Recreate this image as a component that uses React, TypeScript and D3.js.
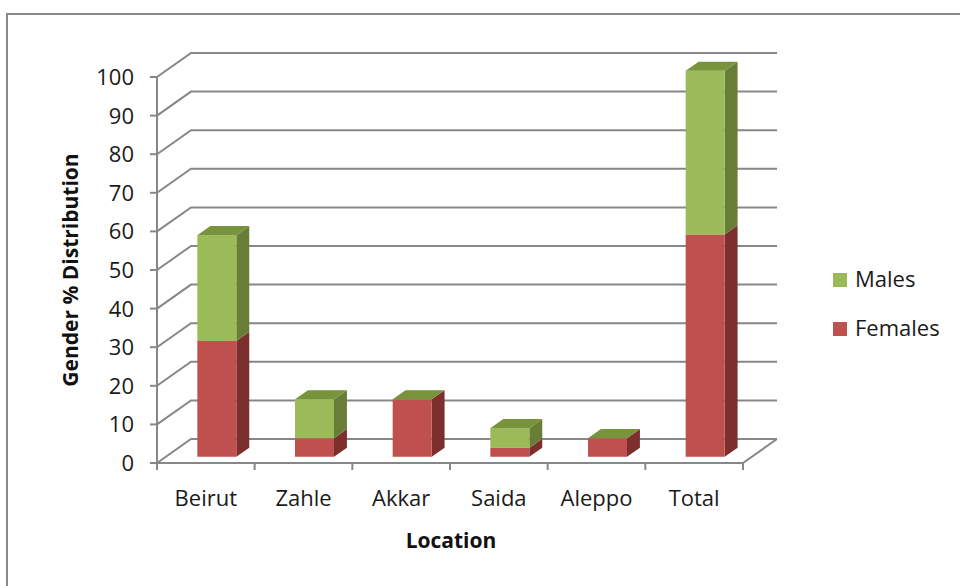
import React from "react";
import * as d3 from "d3";

// Gender split (%) by location
const categories = ["Beirut", "Zahle", "Akkar", "Saida", "Aleppo", "Total"];
const females = [30, 4.8, 14.9, 2.3, 4.8, 57.6];
const males = [27.4, 10.1, 0, 5.1, 0, 42.4];
const yTicks = [0, 10, 20, 30, 40, 50, 60, 70, 80, 90, 100];
const seriesNames = ["Males", "Females"];

const W = 960;
const H = 586;

// 3D projection: depth 1 = back wall
const DX = 34;
const DY = -24;
const BAR_FRONT = 0.26;
const BAR_DEPTH = 0.38;
const BAR_W = 39;

const FONT = "'Open Sans', 'DejaVu Sans', sans-serif";
const GRID = "#878787";

const colors = {
  Males: { front: "#9BBB59", side: "#687E37", top: "#77933C" },
  Females: { front: "#C0504D", side: "#7D2F2D", top: "#9B3E3B" },
};

export default function App() {
  const x = d3.scaleBand<string>().domain(categories).range([157, 743]).padding(0);
  const y = d3.scaleLinear().domain([0, 100]).range([463, 77]);

  const P = (px: number, v: number, depth: number): [number, number] => [
    px + depth * DX,
    y(v) + depth * DY,
  ];
  const pts = (arr: [number, number][]) => arr.map((p) => p.join(",")).join(" ");

  const x0 = x.range()[0];
  const x1 = x.range()[1];

  const stack = d3.stack<number>().keys(["f", "m"]).value((i, key) => (key === "f" ? females[i] : males[i]));
  const stacked = stack(categories.map((_, i) => i));

  const bars = categories.map((cat, i) => {
    const cx = (x(cat) as number) + x.bandwidth() / 2 + 11 - BAR_FRONT * DX;
    const left = cx - BAR_W / 2;
    const right = cx + BAR_W / 2;
    const segs = [
      { key: "Females" as const, lo: stacked[0][i][0], hi: stacked[0][i][1] },
      { key: "Males" as const, lo: stacked[1][i][0], hi: stacked[1][i][1] },
    ];
    const total = stacked[1][i][1];
    const fb = BAR_FRONT;
    const bb = BAR_FRONT + BAR_DEPTH;
    return (
      <g key={cat}>
        {segs
          .filter((s) => s.hi > s.lo)
          .map((s) => {
            const c = colors[s.key];
            const a = P(left, s.hi, fb);
            const b = P(right, s.lo, fb);
            return (
              <g key={s.key}>
                <polygon
                  points={pts([P(right, s.lo, fb), P(right, s.hi, fb), P(right, s.hi, bb), P(right, s.lo, bb)])}
                  fill={c.side}
                />
                <rect x={a[0]} y={a[1]} width={b[0] - a[0]} height={b[1] - a[1]} fill={c.front} />
              </g>
            );
          })}
        <polygon
          points={pts([P(left, total, fb), P(right, total, fb), P(right, total, bb), P(left, total, bb)])}
          fill={colors.Males.top}
        />
      </g>
    );
  });

  return (
    <svg
      width={W}
      height={H}
      style={{ position: "fixed", left: 0, top: 0, background: "#fff" }}
      fontFamily={FONT}
    >
      <rect x={7} y={14} width={1000} height={1000} fill="#fff" stroke="#898989" strokeWidth={2} />

      {/* walls: gridlines with left-wall diagonals */}
      {yTicks.map((t) => {
        const f = P(x0, t, 0);
        const b = P(x0, t, 1);
        const e = P(x1, t, 1);
        return (
          <polyline
            key={t}
            points={pts([f, b, e])}
            fill="none"
            stroke={GRID}
            strokeWidth={2}
          />
        );
      })}
      {/* floor right edge */}
      <line x1={P(x1, 0, 0)[0]} y1={P(x1, 0, 0)[1]} x2={P(x1, 0, 1)[0]} y2={P(x1, 0, 1)[1]} stroke={GRID} strokeWidth={2} />

      {/* value axis */}
      <line x1={x0} y1={y(0)} x2={x0} y2={y(100)} stroke={GRID} strokeWidth={2} />
      {yTicks.map((t) => (
        <g key={t}>
          <line x1={x0 - 7} x2={x0} y1={y(t)} y2={y(t)} stroke={GRID} strokeWidth={2} />
          <text x={134} y={y(t)} dy="0.36em" textAnchor="end" fontSize={22} fill="#1a1a1a">
            {t}
          </text>
        </g>
      ))}

      {/* category axis */}
      <line x1={x0} x2={x1} y1={y(0)} y2={y(0)} stroke={GRID} strokeWidth={2} />
      {[...categories.map((c) => x(c) as number), x1].map((px, i) => (
        <line key={i} x1={px} x2={px} y1={y(0)} y2={y(0) + 7} stroke={GRID} strokeWidth={2} />
      ))}
      {categories.map((c) => (
        <text key={c} x={(x(c) as number) + x.bandwidth() / 2} y={506} textAnchor="middle" fontSize={22} fill="#1a1a1a">
          {c}
        </text>
      ))}

      {bars}

      {/* axis titles */}
      <text x={451} y={548} textAnchor="middle" fontSize={21} fontWeight="bold" fill="#111">
        Location
      </text>
      <text
        transform="translate(70,270) rotate(-90)"
        textAnchor="middle"
        dy="0.36em"
        fontSize={21}
        fontWeight="bold"
        fill="#111"
      >
        Gender % Distribution
      </text>

      {/* legend */}
      {seriesNames.map((s, i) => (
        <g key={s} transform={`translate(833,${273 + i * 49})`}>
          <rect width={14} height={14} fill={colors[s as "Males" | "Females"].front} />
          <text x={22} y={14} fontSize={22} fill="#1a1a1a">
            {s}
          </text>
        </g>
      ))}
    </svg>
  );
}
